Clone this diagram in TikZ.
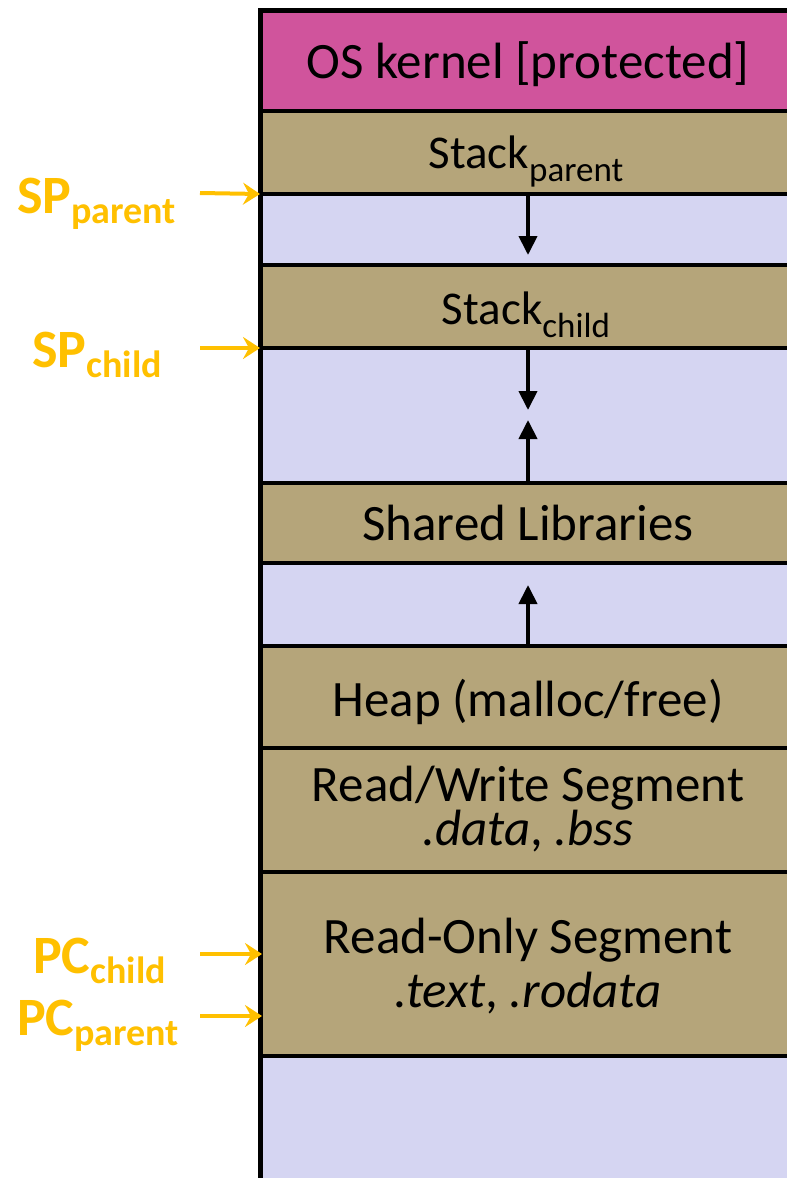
\documentclass[tikz,border=0pt]{standalone}
\usepackage{fontspec}
\setmainfont{Carlito}
\usetikzlibrary{arrows.meta}
\definecolor{kernelpink}{HTML}{D0549C}
\definecolor{segtan}{HTML}{B5A57A}
\definecolor{freelav}{HTML}{D5D5F2}
\definecolor{ptrgold}{HTML}{FFC000}
\newcommand{\stacksub}[1]{\raisebox{-13pt}{\fontsize{35}{40}\selectfont #1}}
\newcommand{\ptrtext}[2]{{\bfseries\fontsize{54}{60}\selectfont #1\raisebox{-10pt}{\fontsize{38}{42}\selectfont #2}}}
\begin{document}
\begin{tikzpicture}[x=1pt,y=-1pt,
  regionband/.style={minimum width=540pt, inner sep=0pt, outer sep=0pt,
    draw=black, line width=3.5pt},
  segband/.style={regionband, fill=segtan},
  gapband/.style={regionband, fill=freelav},
  bandtext/.style={anchor=base, inner sep=0pt, font=\fontsize{51}{56}\selectfont},
  growarrow/.style={line width=4pt, -{Triangle[length=19pt,width=18pt]}},
  ptrarrow/.style={ptrgold, line width=4pt, -{Stealth[length=17pt,width=22pt,inset=6pt]}},
  ptrlabel/.style={anchor=base west, inner sep=0pt, text=ptrgold}]
\useasboundingbox (0,0) rectangle (787,1178);
\clip (0,0) rectangle (787,1178);
\fill[white] (0,0) rectangle (787,1178);

% address-space regions, top to bottom
\node[regionband, fill=kernelpink, minimum height=101pt] (kernel) at (530,60.5) {};
\node[segband, minimum height=83pt] (stackp) at (530,152.5) {};
\node[gapband, minimum height=71pt] (gap1) at (530,229.5) {};
\node[segband, minimum height=83pt] (stackc) at (530,306.5) {};
\node[gapband, minimum height=135pt] (gap2) at (530,415.5) {};
\node[segband, minimum height=80pt] (shlib) at (530,523) {};
\node[gapband, minimum height=83pt] (gap3) at (530,604.5) {};
\node[segband, minimum height=102pt] (heap) at (530,697) {};
\node[segband, minimum height=124pt] (rw) at (530,810) {};
\node[segband, minimum height=184pt] (ro) at (530,964) {};
\node[gapband, minimum height=124pt] (gap4) at (530,1118) {};

% region names
\node[bandtext] (kernel-t) at (528,78) {OS kernel [protected]};
\node[bandtext, font=\fontsize{47}{56}\selectfont] (stackp-t) at (526,168) {Stack\stacksub{parent}};
\node[bandtext, font=\fontsize{47}{56}\selectfont] (stackc-t) at (526,324) {Stack\stacksub{child}};
\node[bandtext] (shlib-t) at (528,540) {Shared Libraries};
\node[bandtext] (heap-t) at (528,716) {Heap (malloc/free)};
\node[bandtext] (rw-t) at (528,801) {Read/Write Segment};
\node[bandtext] (rw-s) at (528,845) {\itshape .data\upshape, \itshape .bss};
\node[bandtext] (ro-t) at (528,953) {Read-Only Segment};
\node[bandtext] (ro-s) at (528,1007) {\itshape .text\upshape, \itshape .rodata};

% outer frame
\draw[line width=5pt] (800,10) -- (260,10) -- (260,1185);

% growth directions
\coordinate (stackp-end) at (528,255);
\coordinate (stackc-end) at (528,410);
\coordinate (shlib-end) at (528,420);
\coordinate (heap-end) at (528,585);
\draw[growarrow] (stackp.south -| stackp-end) -- (stackp-end);
\draw[growarrow] (stackc.south -| stackc-end) -- (stackc-end);
\draw[growarrow] (shlib.north -| shlib-end) -- (shlib-end);
\draw[growarrow] (heap.north -| heap-end) -- (heap-end);

% stack and program counter pointers
\node[ptrlabel] (spp) at (17,213) {\ptrtext{SP}{parent}};
\node[ptrlabel] (spc) at (32,367) {\ptrtext{SP}{child}};
\node[ptrlabel] (pcc) at (33,973) {\ptrtext{PC}{child}};
\node[ptrlabel] (pcp) at (17,1035) {\ptrtext{PC}{parent}};
\coordinate (spp-tail) at (200,193);
\coordinate (spc-tail) at (200,348);
\coordinate (pcc-tail) at (200,954);
\coordinate (pcp-tail) at (200,1016);
\coordinate (pcc-head) at (262,954);
\coordinate (pcp-head) at (262,1016);
\draw[ptrarrow] (spp-tail) -- (stackp.south west);
\draw[ptrarrow] (spc-tail) -- (stackc.south west);
\draw[ptrarrow] (pcc-tail) -- (pcc-head);
\draw[ptrarrow] (pcp-tail) -- (pcp-head);
\end{tikzpicture}
\end{document}
